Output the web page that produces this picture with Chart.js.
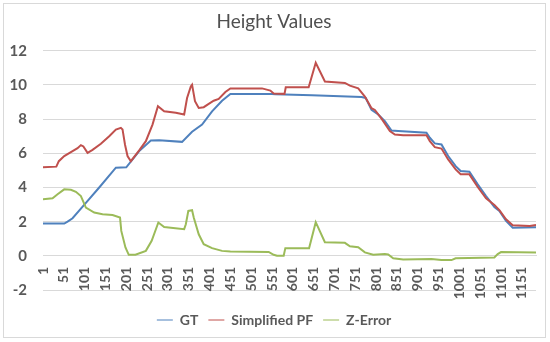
<!DOCTYPE html>
<html>
<head>
<meta charset="utf-8">
<script src="https://cdn.jsdelivr.net/npm/chart.js@4.4.1/dist/chart.umd.min.js"></script>
<style>
  body { margin: 0; background: #fff; }
  #wrap { position: relative; width: 550px; height: 342px; }
  #frame { position: absolute; left: 3px; top: 3px; width: 541px; height: 333px; border: 1px solid #d9d9d9; pointer-events: none; }
</style>
</head>
<body>
<div id="wrap">
  <canvas id="heightChart" width="550" height="342"></canvas>
  <div id="frame"></div>
</div>
<script>
// sample index -> value
const gtX = [1, 52, 60, 72, 104, 136, 176, 201, 232, 260, 280, 335, 359, 383, 407, 431, 451, 551, 559, 647, 766, 776, 790, 806, 822, 838, 854, 922, 930, 942, 958, 974, 992, 1004, 1025, 1045, 1065, 1085, 1097, 1113, 1129, 1185];
const gtY = [1.89, 1.89, 2.0, 2.2, 3.1, 4.0, 5.16, 5.18, 6.13, 6.75, 6.77, 6.67, 7.26, 7.68, 8.46, 9.08, 9.47, 9.47, 9.45, 9.4, 9.3, 9.24, 8.54, 8.27, 7.88, 7.33, 7.3, 7.2, 6.91, 6.58, 6.52, 5.84, 5.25, 4.96, 4.92, 4.18, 3.5, 2.86, 2.63, 2.04, 1.65, 1.67];

const pfX = [1, 33, 39, 52, 72, 84, 92, 98, 108, 120, 140, 160, 176, 188, 192, 198, 204, 212, 232, 248, 264, 277, 292, 320, 340, 347, 356, 359, 366, 375, 387, 399, 411, 423, 439, 451, 527, 547, 555, 581, 584, 639, 656, 678, 726, 738, 758, 774, 790, 798, 814, 834, 846, 866, 922, 930, 942, 958, 974, 992, 1004, 1025, 1045, 1065, 1085, 1097, 1113, 1129, 1170, 1185];
const pfY = [5.19, 5.22, 5.54, 5.84, 6.13, 6.3, 6.48, 6.4, 6.03, 6.2, 6.56, 7.0, 7.39, 7.49, 7.4, 6.5, 5.84, 5.54, 6.17, 6.71, 7.68, 8.75, 8.46, 8.37, 8.27, 9.24, 9.92, 10.02, 9.05, 8.66, 8.7, 8.89, 9.08, 9.18, 9.59, 9.8, 9.8, 9.67, 9.5, 9.48, 9.86, 9.86, 11.3, 10.2, 10.12, 9.96, 9.8, 9.32, 8.64, 8.54, 8.03, 7.3, 7.1, 7.06, 7.06, 6.71, 6.36, 6.28, 5.64, 5.06, 4.77, 4.77, 4.03, 3.37, 2.98, 2.67, 2.14, 1.79, 1.75, 1.81];

const zX = [1, 24, 36, 52, 68, 80, 92, 104, 124, 144, 168, 186, 189, 199, 207, 223, 248, 262, 278, 292, 340, 344, 350, 359, 363, 375, 387, 407, 431, 451, 543, 555, 563, 579, 583, 640, 656, 678, 726, 738, 758, 774, 794, 822, 830, 842, 866, 934, 958, 982, 992, 1085, 1093, 1101, 1185];
const zY = [3.31, 3.37, 3.6, 3.89, 3.87, 3.75, 3.5, 2.82, 2.53, 2.43, 2.39, 2.24, 1.46, 0.49, 0.06, 0.06, 0.29, 0.88, 1.95, 1.69, 1.56, 1.85, 2.63, 2.67, 2.24, 1.26, 0.68, 0.45, 0.29, 0.25, 0.23, 0.06, 0, 0, 0.45, 0.45, 1.97, 0.8, 0.76, 0.56, 0.5, 0.2, 0.06, 0.1, 0.08, -0.14, -0.22, -0.19, -0.25, -0.25, -0.14, -0.1, 0.1, 0.22, 0.19];

const xTicks = [1, 51, 101, 151, 201, 251, 301, 351, 401, 451, 501, 551, 601, 651, 701, 751, 801, 851, 901, 951, 1001, 1051, 1101, 1151];

const pts = (xs, ys) => xs.map((x, i) => ({ x: x, y: ys[i] }));
const grey = '#595959';
const fam = 'Lato, "Open Sans", sans-serif';

new Chart(document.getElementById('heightChart'), {
    type: 'line',
    data: {
        datasets: [
            { label: 'GT', data: pts(gtX, gtY), borderColor: '#4F81BD', backgroundColor: '#4F81BD', order: 3 },
            { label: 'Simplified PF', data: pts(pfX, pfY), borderColor: '#C0504D', backgroundColor: '#C0504D', order: 2 },
            { label: 'Z-Error', data: pts(zX, zY), borderColor: '#9BBB59', backgroundColor: '#9BBB59', order: 1 }
        ]
    },
    options: {
        responsive: false,
        animation: false,
        elements: {
            line: { borderWidth: 2, tension: 0, fill: false },
            point: { radius: 0 }
        },
        layout: { padding: { left: 10, right: 12, top: 0, bottom: 5 } },
        plugins: {
            title: {
                display: true,
                text: 'Height Values',
                color: '#505050',
                font: { family: fam, size: 19, weight: 'normal' },
                padding: { top: 10, bottom: 18 }
            },
            legend: {
                position: 'bottom',
                // empty title only keeps room for the axis labels under the plot
                title: { display: true, text: '', font: { size: 10 }, padding: { top: 1, bottom: 0 } },
                labels: {
                    color: grey,
                    font: { family: fam, size: 14, weight: 'bold' },
                    usePointStyle: true,
                    pointStyle: 'line',
                    pointStyleWidth: 16,
                    padding: 10,
                    sort: (a, b) => a.datasetIndex - b.datasetIndex
                }
            },
            tooltip: { enabled: false }
        },
        scales: {
            x: {
                type: 'linear',
                position: { y: 0 },
                min: 1,
                max: 1185,
                afterBuildTicks: (scale) => { scale.ticks = xTicks.map(v => ({ value: v })); },
                grid: { display: false, drawTicks: false },
                border: { display: true, color: '#D9D9D9', width: 1 },
                ticks: {
                    autoSkip: false,
                    minRotation: 90,
                    maxRotation: 90,
                    padding: 11,
                    color: grey,
                    font: { family: fam, size: 14, weight: 'bold' },
                    callback: (v) => String(v)
                }
            },
            y: {
                min: -2,
                max: 12,
                afterFit: (scale) => { scale.width = 33; },
                grid: { color: '#D9D9D9', drawTicks: false },
                border: { display: false },
                ticks: {
                    stepSize: 2,
                    padding: 16,
                    color: grey,
                    font: { family: fam, size: 15, weight: 'bold' }
                }
            }
        }
    }
});
</script>
</body>
</html>
